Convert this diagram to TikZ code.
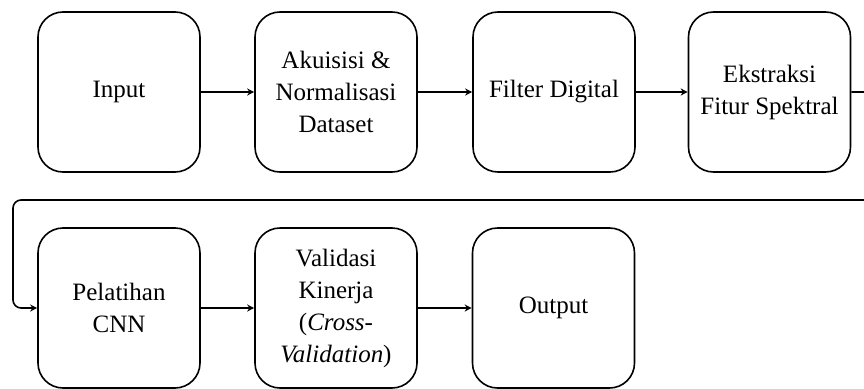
\documentclass[tikz,border=0pt]{standalone}
\usepackage{fontspec}
\setmainfont{Liberation Serif}
\usetikzlibrary{arrows.meta}
\begin{document}
\begin{tikzpicture}[x=1pt,y=-1pt,
  box/.style={draw, line width=1.6pt, rounded corners=25pt, minimum width=162pt, minimum height=160pt, align=center, inner sep=0pt, font=\fontsize{25}{32}\selectfont},
  conn/.style={line width=1.6pt, -{Stealth[length=7pt,width=7pt]}}]
\useasboundingbox (0,0) rectangle (864,388);
\clip (0,0) rectangle (864,388);
\node[box] (in) at (119,92) {Input};
\node[box] (akn) at (336,92) {Akuisisi \&\\Normalisasi\\Dataset};
\node[box] (fd) at (554,92) {Filter Digital};
\node[box] (efs) at (769.5,92) {Ekstraksi\\Fitur Spektral};
\node[box] (cnn) at (119,308) {Pelatihan\\CNN};
\node[box] (val) at (336,308) {Validasi\\Kinerja\\(\textit{Cross-}\\\textit{Validation})};
\node[box] (out) at (553.5,308) {Output};
\coordinate (r1) at (880,92);
\coordinate (r2) at (880,200);
\coordinate (l1) at (13,200);
\coordinate (l2) at (13,308);
\draw[conn] (in) -- (akn);
\draw[conn] (akn) -- (fd);
\draw[conn] (fd) -- (efs);
\draw[conn, rounded corners=8pt] (efs.east) -- (r1) -- (r2) -- (l1) -- (l2) -- (cnn.west);
\draw[conn] (cnn) -- (val);
\draw[conn] (val) -- (out);
\end{tikzpicture}
\end{document}
